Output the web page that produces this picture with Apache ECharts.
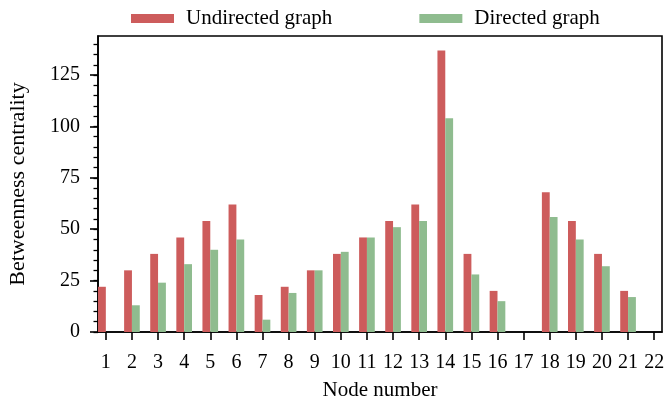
<!DOCTYPE html>
<html>
<head>
<meta charset="utf-8">
<script src="https://cdn.jsdelivr.net/npm/echarts@6/dist/echarts.min.js"></script>
<style>
html,body{margin:0;padding:0;background:#fff;}
#chart{width:665px;height:407px;}
</style>
</head>
<body>
<div id="chart"></div>
<script>
const nodes = [1,2,3,4,5,6,7,8,9,10,11,12,13,14,15,16,17,18,19,20,21,22];
const undirected = [22,30,38,46,54,62,18,22,30,38,46,54,62,137,38,20,0,68,54,38,20,0];
const directed = [0,13,24,33,40,45,6,19,30,39,46,51,54,104,28,15,0,56,45,32,17,0];
const yMajorTicks = [0,25,50,75,100,125];
const yMinorTicks = [0,5,10,15,20,25,30,35,40,45,50,55,60,65,70,75,80,85,90,95,100,105,110,115,120,125,130,135,140];

const font = 'Liberation Serif, Times New Roman, serif';
const chart = echarts.init(document.getElementById('chart'), null, {renderer:'canvas'});
chart.setOption({
  backgroundColor:'#fff',
  animation:false,
  textStyle:{fontFamily:font, color:'#000'},
  legend:{
    left:126, top:3,
    itemWidth:43, itemHeight:9, itemGap:87,
    icon:'rect',
    textStyle:{fontFamily:font, fontSize:21, color:'#000', padding:[0,0,0,7]},
    data:['Undirected graph','Directed graph']
  },
  grid:{left:98, right:3, top:36, bottom:75, show:true, borderColor:'#000', borderWidth:1.6, backgroundColor:'transparent', containLabel:false, outerBoundsMode:'none'},
  xAxis:{
    type:'value', min:0.7, max:22.3,
    name:'Node number', nameLocation:'middle', nameGap:48,
    nameTextStyle:{fontFamily:font, fontSize:21, color:'#000'},
    axisLine:{show:true, lineStyle:{color:'#000', width:1.6}},
    axisTick:{show:true, inside:false, length:8, lineStyle:{color:'#000', width:1.6}, customValues:nodes},
    axisLabel:{fontFamily:font, fontSize:20, color:'#000', margin:21, customValues:nodes, hideOverlap:false},
    splitLine:{show:false}
  },
  yAxis:[{
    type:'value', min:0, max:144,
    name:'Betweenness centrality', nameLocation:'middle', nameGap:69, nameRotate:90,
    nameTextStyle:{fontFamily:font, fontSize:22, color:'#000'},
    axisLine:{show:true, lineStyle:{color:'#000', width:1.6}},
    axisTick:{show:true, inside:false, length:8, lineStyle:{color:'#000', width:1.6}, customValues:yMajorTicks},
    axisLabel:{fontFamily:font, fontSize:20, color:'#000', margin:18, customValues:yMajorTicks},
    splitLine:{show:false}
  },{
    type:'value', min:0, max:144, position:'left',
    axisLine:{show:false},
    axisTick:{show:true, inside:false, length:4.5, lineStyle:{color:'#000', width:1.3}, customValues:yMinorTicks},
    axisLabel:{show:false},
    splitLine:{show:false}
  }],
  series:[{
    name:'Undirected graph', type:'bar', xAxisIndex:0, yAxisIndex:0,
    barWidth:'30%', barGap:'0%',
    itemStyle:{color:'#CD5C5C'},
    data:nodes.map((n,i)=>[n, undirected[i]])
  },{
    name:'Directed graph', type:'bar', xAxisIndex:0, yAxisIndex:0,
    barWidth:'30%', barGap:'0%',
    itemStyle:{color:'#8FBC8F'},
    data:nodes.map((n,i)=>[n, directed[i]])
  }]
});
</script>
</body>
</html>
